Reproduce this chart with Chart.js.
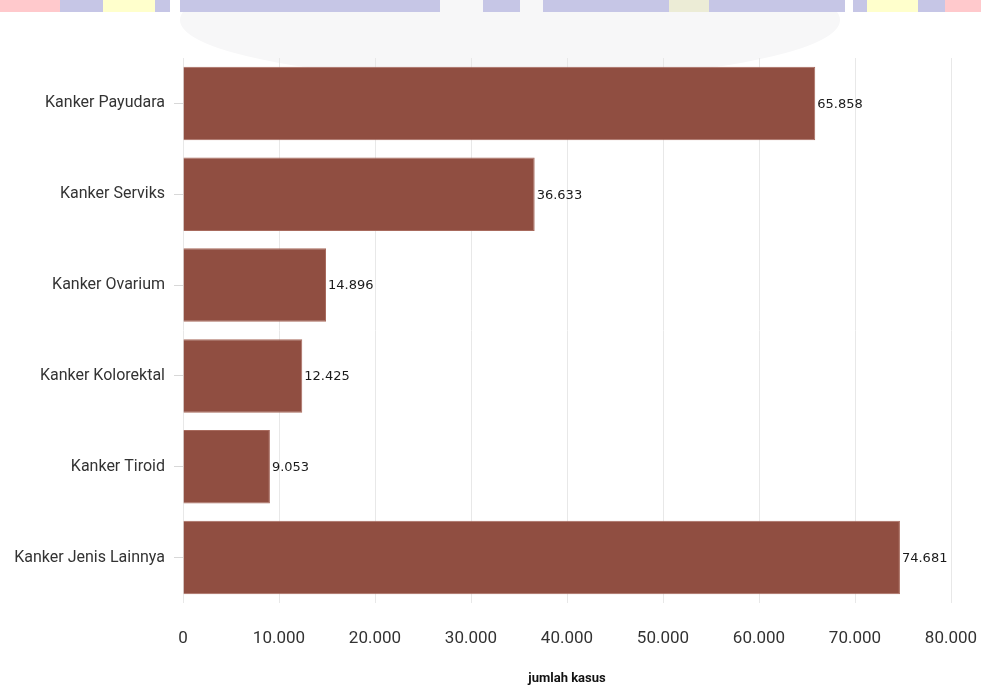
<!DOCTYPE html>
<html>
<head>
<meta charset="utf-8">
<script src="https://cdn.jsdelivr.net/npm/chart.js@4.4.0/dist/chart.umd.min.js"></script>
<style>
  html, body { margin: 0; padding: 0; background: #fff; }
  #wrap { width: 981px; height: 688px; }
</style>
</head>
<body>
<div id="wrap"><canvas id="myChart" width="981" height="688"></canvas></div>
<script>
// data
var categories = ["Kanker Payudara", "Kanker Serviks", "Kanker Ovarium", "Kanker Kolorektal", "Kanker Tiroid", "Kanker Jenis Lainnya"];
var cases = [65858, 36633, 14896, 12425, 9053, 74681];
var xMax = 80000;
var xStep = 10000;
var axisTitle = "jumlah kasus";

// 12345 -> "12.345"
function fmt(n) {
  return String(Math.round(n)).replace(/\B(?=(\d{3})+(?!\d))/g, ".");
}

// coloured strip + faint logo behind the chart
var backdrop = {
  id: 'backdrop',
  beforeDraw: function(chart) {
    var c = chart.ctx;
    c.save();
    c.fillStyle = '#f7f7f8';
    c.beginPath();
    c.ellipse(510, 20, 330, 60, 0, 0, Math.PI * 2);
    c.fill();
    var strip = [
      ['#ffc9cc', 0, 75], ['#c6c6e6', 60, 103], ['#ffffcc', 103, 155],
      ['#c6c6e6', 155, 170], ['#c6c6e6', 180, 440], ['#c6c6e6', 483, 520],
      ['#c6c6e6', 543, 669], ['#ececd6', 669, 709], ['#c6c6e6', 709, 845],
      ['#c6c6e6', 853, 867], ['#ffffcc', 867, 918], ['#c6c6e6', 918, 955],
      ['#ffc9cc', 945, 981]
    ];
    strip.forEach(function(s) {
      c.fillStyle = s[0];
      c.fillRect(s[1], 0, s[2] - s[1], 12);
    });
    c.restore();
  }
};

// value labels at the end of each bar
var barLabels = {
  id: 'barLabels',
  afterDatasetsDraw: function(chart) {
    var c = chart.ctx;
    var meta = chart.getDatasetMeta(0);
    c.save();
    c.font = '13px "DejaVu Sans", Verdana, sans-serif';
    c.fillStyle = '#1a1a1a';
    c.textAlign = 'left';
    c.textBaseline = 'middle';
    meta.data.forEach(function(bar, i) {
      c.fillText(fmt(cases[i]), bar.x + 2, bar.y + 1);
    });
    c.restore();
  }
};

const ctx = document.getElementById('myChart');

new Chart(ctx, {
  type: 'bar',
  data: {
    labels: categories,
    datasets: [{
      data: cases,
      backgroundColor: '#904e41',
      borderColor: '#a86a5d',
      borderWidth: 1,
      barPercentage: 0.9,
      categoryPercentage: 0.9
    }]
  },
  options: {
    indexAxis: 'y',
    responsive: false,
    animation: false,
    layout: { padding: { top: 58, right: 30, left: 0, bottom: 0 } },
    plugins: {
      legend: { display: false },
      tooltip: { enabled: false }
    },
    scales: {
      x: {
        min: 0,
        max: xMax,
        afterFit: function(scale) {
          scale.height = 85;
          scale.paddingLeft = 0;
          scale.paddingRight = 0;
        },
        border: { display: false },
        grid: { color: '#e8e8e8', drawTicks: false },
        ticks: {
          stepSize: xStep,
          padding: 26,
          color: '#333',
          font: { family: 'Roboto', size: 17 },
          callback: function(v) { return fmt(v); }
        },
        title: {
          display: true,
          text: axisTitle,
          color: '#111',
          font: { family: 'Roboto', size: 13, weight: 'bold' },
          padding: { top: 0, bottom: 1 }
        }
      },
      y: {
        afterFit: function(scale) { scale.width = 183; },
        border: { display: false },
        grid: { offset: false, drawOnChartArea: false, drawTicks: true, tickLength: 9, color: '#d8d8d8' },
        ticks: {
          padding: 9,
          color: '#333',
          font: { family: 'Roboto', size: 16 }
        }
      }
    }
  },
  plugins: [backdrop, barLabels]
});
</script>
</body>
</html>
